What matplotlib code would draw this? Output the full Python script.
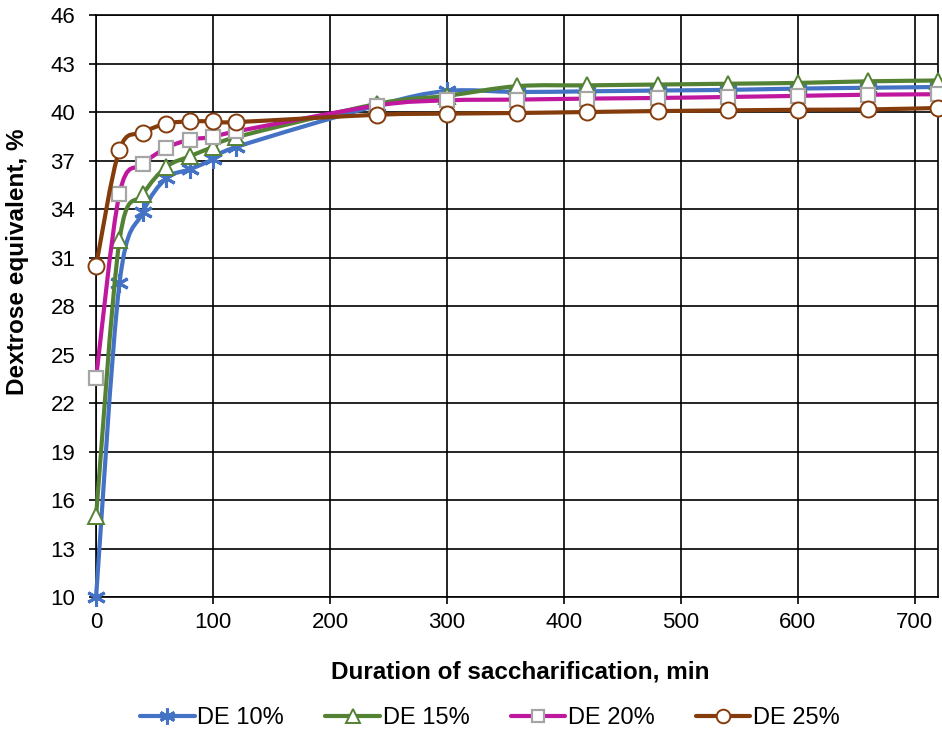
import matplotlib
matplotlib.use("Agg")
import matplotlib.pyplot as plt
from matplotlib.path import Path
from matplotlib.patches import PathPatch
from matplotlib.lines import Line2D

plt.rcParams['font.family'] = ['Liberation Sans', 'DejaVu Sans']

# saccharification time, min
minutes = [0, 20, 40, 60, 80, 100, 120, 240, 300, 360, 420, 480, 540, 600, 660, 720]

de10 = [10.0, 29.4, 33.8, 35.9, 36.45, 37.07, 37.84, 40.4, 41.3, 41.24, 41.28, 41.33, 41.37, 41.45, 41.5, 41.55]
de15 = [15.0, 32.06, 34.9, 36.6, 37.26, 37.84, 38.45, 40.5, 41.0, 41.6, 41.65, 41.7, 41.75, 41.8, 41.9, 41.95]
de20 = [23.55, 34.95, 36.76, 37.77, 38.29, 38.45, 38.8, 40.4, 40.72, 40.77, 40.83, 40.87, 40.93, 41.0, 41.07, 41.1]
de25 = [30.5, 37.67, 38.72, 39.28, 39.42, 39.42, 39.38, 39.83, 39.9, 39.94, 40.0, 40.06, 40.1, 40.14, 40.16, 40.25]

series_names = ['DE 10%', 'DE 15%', 'DE 20%', 'DE 25%']
yticks = [10, 13, 16, 19, 22, 25, 28, 31, 34, 37, 40, 43, 46]
xticks = [0, 100, 200, 300, 400, 500, 600, 700]


def smooth_path(xs, ys):
    # excel-like smoothed line: cubic bezier segments through the points
    n = len(xs)
    verts = [(xs[0], ys[0])]
    codes = [Path.MOVETO]
    for i in range(n - 1):
        i0 = max(i - 1, 0)
        i3 = min(i + 2, n - 1)
        c1 = (xs[i] + (xs[i + 1] - xs[i0]) / 6, ys[i] + (ys[i + 1] - ys[i0]) / 6)
        c2 = (xs[i + 1] - (xs[i3] - xs[i]) / 6, ys[i + 1] - (ys[i3] - ys[i]) / 6)
        verts += [c1, c2, (xs[i + 1], ys[i + 1])]
        codes += [Path.CURVE4] * 3
    return Path(verts, codes)


styles = [
    dict(color='#4472C4', marker=(6, 2, 0), mfc='#4472C4', mec='#4472C4', ms=13.5, mew=2.2),
    dict(color='#548235', marker='^', mfc='white', mec='#548235', ms=11.5, mew=1.4),
    dict(color='#C0179F', marker='s', mfc='white', mec='#A5A5A5', ms=9.5, mew=1.6),
    dict(color='#843C0C', marker='o', mfc='white', mec='#843C0C', ms=11.5, mew=1.4),
]

fig = plt.figure(figsize=(9.42, 7.33), dpi=100)
ax = fig.add_axes([0.102, 0.1855, 0.894, 0.794])

handles = []
for k, ys in enumerate([de10, de15, de20, de25]):
    st = styles[k]
    patch = PathPatch(smooth_path(minutes, ys), fill=False, edgecolor=st['color'],
                      lw=3.0, capstyle='round', joinstyle='round', clip_on=False, zorder=3 + k)
    ax.add_patch(patch)
    ax.plot(minutes, ys, ls='none', marker=st['marker'], ms=st['ms'], mfc=st['mfc'],
            mec=st['mec'], mew=st['mew'], clip_on=False, zorder=3 + k)
    handles.append(Line2D([0], [0], color=st['color'], lw=3.0, marker=st['marker'],
                          ms=st['ms'] * 0.85, mfc=st['mfc'], mec=st['mec'], mew=st['mew'],
                          solid_capstyle='round'))

ax.set_xlim(0, 720)
ax.set_ylim(10, 46)
ax.set_xticks(xticks)
ax.set_yticks(yticks)
ax.grid(True, color='black', lw=1.2)
ax.set_axisbelow(True)
for sp in ax.spines.values():
    sp.set_color('black')
    sp.set_linewidth(1.2)
ax.tick_params(direction='out', length=5, width=1.2, labelsize=16, colors='black')
ax.tick_params(axis='x', pad=6)
ax.tick_params(axis='y', pad=10)

fig.text(520 / 942, 1 - 672 / 733, 'Duration of saccharification, min', fontsize=17.5,
         fontweight='bold', ha='center', va='center')
fig.text(18 / 942, 1 - 262 / 733, 'Dextrose equivalent, %', fontsize=17.5,
         fontweight='bold', ha='center', va='center', rotation=90)

fig.legend(handles, series_names, loc='center', bbox_to_anchor=(490 / 942, 1 - 718 / 733), ncol=4,
           frameon=False, fontsize=17, handlelength=2.3, columnspacing=1.75, handletextpad=0.12,
           borderpad=0, borderaxespad=0)

fig.savefig('out.png', dpi=100)
